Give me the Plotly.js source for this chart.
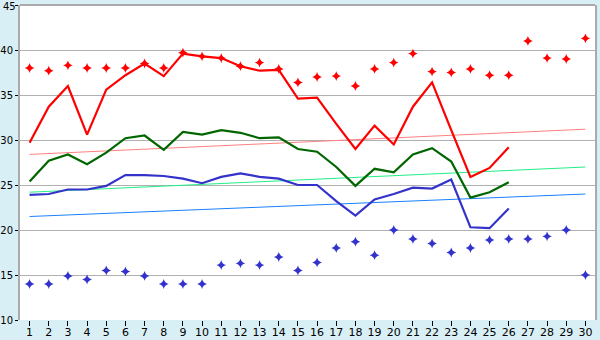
<!DOCTYPE html>
<html>
<head>
<meta charset="utf-8">
<script src="https://cdn.plot.ly/plotly-3.0.1.min.js"></script>
<style>html,body{margin:0;padding:0;background:#d9eff6;}#chart{width:600px;height:340px;}</style>
</head>
<body>
<div id="chart"></div>
<script>
const days = Array.from({length: 30}, (_, i) => i + 1);
const lineDays = days.slice(0, 26);
const yTicks = [10, 15, 20, 25, 30, 35, 40, 45];

const maxRecord = [38.0, 37.7, 38.3, 38.0, 38.0, 38.0, 38.5, 38.0, 39.7, 39.3,
                   39.1, 38.2, 38.6, 37.9, 36.4, 37.0, 37.1, 36.0, 37.9, 38.6,
                   39.6, 37.6, 37.5, 37.9, 37.2, 37.2, 41.0, 39.1, 39.0, 41.3];
const minRecord = [14.0, 14.0, 14.9, 14.5, 15.5, 15.4, 14.9, 14.0, 14.0, 14.0,
                   16.1, 16.3, 16.1, 17.0, 15.5, 16.4, 18.0, 18.7, 17.2, 20.0,
                   19.0, 18.5, 17.5, 18.0, 18.9, 19.0, 19.0, 19.3, 20.0, 15.0];
const maxTemp = [29.7, 33.7, 36.0, 30.6, 35.6, 37.2, 38.5, 37.1, 39.6, 39.3,
                 39.1, 38.2, 37.7, 37.8, 34.6, 34.7, 31.8, 29.0, 31.6, 29.5,
                 33.7, 36.4, 31.1, 25.9, 26.9, 29.2];
const avgTemp = [25.4, 27.7, 28.4, 27.3, 28.6, 30.2, 30.5, 28.9, 30.9, 30.6,
                 31.1, 30.8, 30.2, 30.3, 29.0, 28.7, 27.0, 24.9, 26.8, 26.4,
                 28.4, 29.1, 27.6, 23.6, 24.2, 25.3];
const minTemp = [23.9, 24.0, 24.5, 24.5, 24.9, 26.1, 26.1, 26.0, 25.7, 25.2,
                 25.9, 26.3, 25.9, 25.7, 25.0, 25.0, 23.2, 21.6, 23.4, 24.0,
                 24.7, 24.6, 25.6, 20.3, 20.2, 22.4];
const trendDays = [1, 30];
const maxTrend = [28.4, 31.2];
const avgTrend = [24.2, 27.0];
const minTrend = [21.5, 24.0];

const traces = [
  {x: trendDays, y: maxTrend, mode: 'lines', line: {color: '#ff8080', width: 1}},
  {x: trendDays, y: avgTrend, mode: 'lines', line: {color: '#22ee88', width: 1}},
  {x: trendDays, y: minTrend, mode: 'lines', line: {color: '#1a80ff', width: 1}},
  {x: lineDays, y: minTemp, mode: 'lines', line: {color: '#3333cc', width: 2.2}},
  {x: lineDays, y: avgTemp, mode: 'lines', line: {color: '#006600', width: 2.2}},
  {x: lineDays, y: maxTemp, mode: 'lines', line: {color: '#ff0000', width: 2.2}},
  {x: days, y: maxRecord, mode: 'markers', marker: {color: '#ff0000', symbol: 'star-diamond', size: 7}},
  {x: days, y: minRecord, mode: 'markers', marker: {color: '#3333cc', symbol: 'star-diamond', size: 7}}
];

const topTick = yTicks[yTicks.length - 1];

const layout = {
  width: 600, height: 340,
  margin: {l: 20, r: 5, t: 5, b: 20, pad: 0},
  paper_bgcolor: '#d9eff6',
  plot_bgcolor: '#ffffff',
  showlegend: false,
  font: {family: 'DejaVu Sans, Verdana, sans-serif', size: 11, color: '#000'},
  xaxis: {
    range: [0.5, 30.5], tickmode: 'array', tickvals: days, ticktext: days.map(String),
    showgrid: false, zeroline: false, ticks: 'outside', ticklen: 5, tickcolor: '#000',
    showline: false, fixedrange: true, tickfont: {size: 11}, ticklabelstandoff: -3,
    ticklabeloverflow: 'allow'
  },
  yaxis: {
    range: [10, 45], tickmode: 'array', tickvals: yTicks,
    ticktext: yTicks.map(v => v === topTick ? '' : String(v)),
    showgrid: true, gridcolor: '#b0b0b0', gridwidth: 1,
    zeroline: false, ticks: 'outside', ticklen: 3, tickcolor: '#000',
    showline: true, linecolor: '#aaaaaa', linewidth: 2, mirror: true, fixedrange: true,
    tickfont: {size: 10}, ticklabeloverflow: 'allow'
  },
  annotations: [
    {xref: 'paper', yref: 'y', x: 0, y: topTick, text: String(topTick), showarrow: false,
     xanchor: 'right', yanchor: 'top', xshift: -3, yshift: 5, font: {size: 10, color: '#000'},
     borderpad: 0}
  ],
  shapes: [
    {type: 'line', xref: 'paper', yref: 'paper', x0: 0, x1: 1, y0: 1, y1: 1,
     line: {color: '#aaaaaa', width: 2}}
  ]
};

Plotly.newPlot('chart', traces, layout, {staticPlot: true, displayModeBar: false});
</script>
</body>
</html>
